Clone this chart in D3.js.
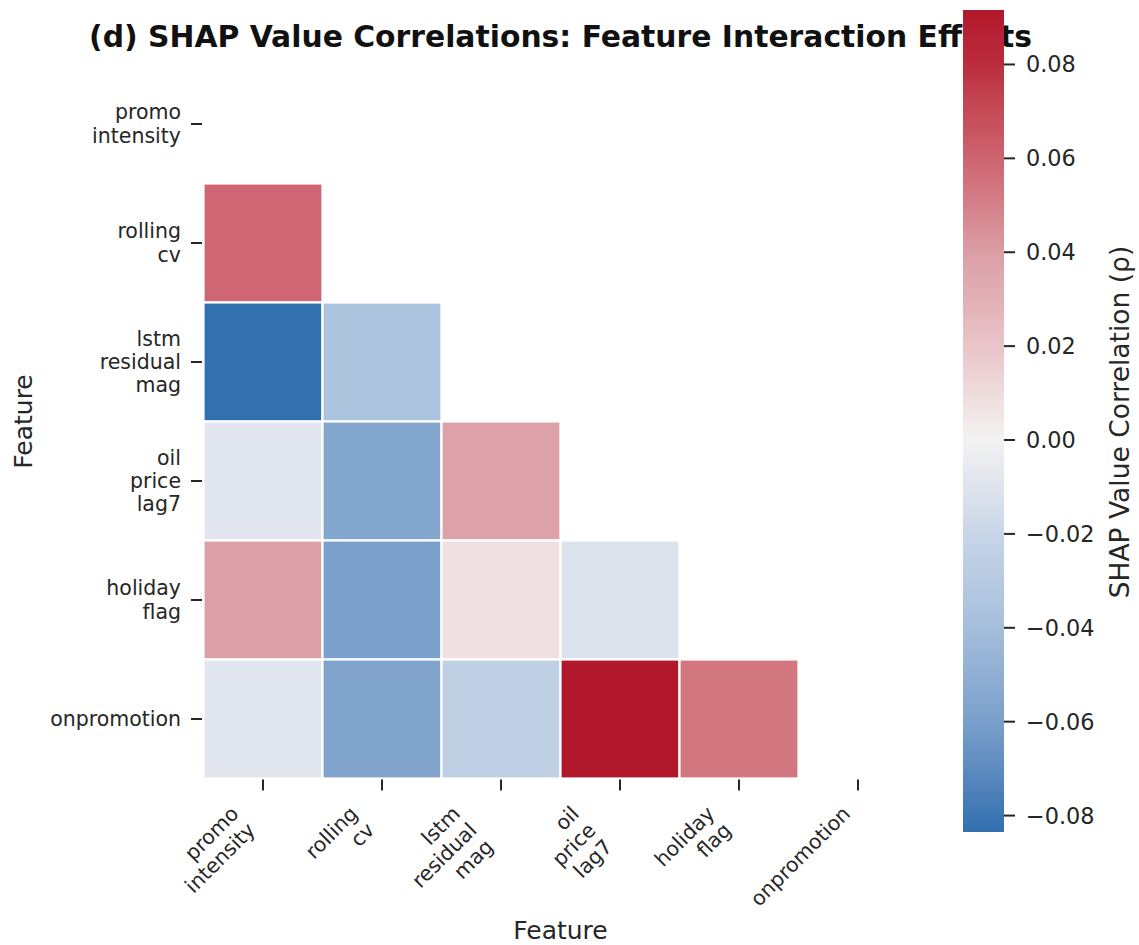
<!DOCTYPE html>
<html>
<head>
<meta charset="utf-8">
<script src="https://cdn.jsdelivr.net/npm/d3@7/dist/d3.min.js"></script>
<style>
  html, body { margin: 0; padding: 0; background: #fff; }
  svg { display: block; font-family: "DejaVu Sans", sans-serif; }
</style>
</head>
<body>
<svg id="chart" width="1139" height="945"></svg>
<script>
// ---------------- DATA ----------------
const features = ["promo_intensity", "rolling_cv", "lstm_residual_mag", "oil_price_lag7", "holiday_flag", "onpromotion"];
// Lower-triangle correlations: row i, columns 0..i-1
const rowRolling = [0.059];
const rowLstm = [-0.0835, -0.036];
const rowOil = [-0.009, -0.056, 0.038];
const rowHoliday = [0.039, -0.060, 0.008, -0.011];
const rowOnpromo = [-0.009, -0.057, -0.025, 0.0916, 0.054];
const lowerRows = [[], rowRolling, rowLstm, rowOil, rowHoliday, rowOnpromo];
const colorbarTicks = [-0.08, -0.06, -0.04, -0.02, 0.00, 0.02, 0.04, 0.06, 0.08];
const titleText = "(d) SHAP Value Correlations: Feature Interaction Effects";
const xAxisLabel = "Feature";
const yAxisLabel = "Feature";
const colorbarLabel = "SHAP Value Correlation (\u03c1)";

(function () {
// ---------------- SETUP ----------------
const svg = d3.select("#chart");
const textColor = "#262626";
const pLeft = 203.5, pRight = 917.5, pTop = 64.5, pBottom = 778.5;
const tickFont = 20.5;

const x = d3.scaleBand().domain(features).range([pLeft, pRight]).padding(0);
const y = d3.scaleBand().domain(features).range([pTop, pBottom]).padding(0);

const cells = [];
lowerRows.forEach((row, i) => row.forEach((v, j) => cells.push({ r: features[i], c: features[j], v })));
const allVals = cells.map(d => d.v);
const vmin = d3.min(allVals), vmax = d3.max(allVals);

// diverging colormap (blue - white - red)
const color = d3.scaleLinear()
  .domain([-0.0835, -0.08, -0.06, -0.04, -0.02, 0, 0.02, 0.04, 0.06, 0.08, 0.0916])
  .range(["#3370b0", "#3c76b4", "#7aa0cb", "#a5bedb", "#c8d6e8", "#f4f2f2", "#e9c4c9", "#db9da5", "#cd6470", "#bb2c3d", "#b2182b"])
  .interpolate(d3.interpolateLab)
  .clamp(true);

// ---------------- TITLE ----------------
svg.append("text")
  .attr("x", (pLeft + pRight) / 2).attr("y", 47)
  .attr("text-anchor", "middle")
  .attr("font-size", 29.8).attr("font-weight", "bold").attr("fill", "#111")
  .text(titleText);

// ---------------- CELLS ----------------
svg.append("g").selectAll("rect").data(cells).join("rect")
  .attr("x", d => x(d.c)).attr("y", d => y(d.r))
  .attr("width", x.bandwidth()).attr("height", y.bandwidth())
  .attr("fill", d => color(d.v))
  .attr("stroke", "#fff").attr("stroke-width", 2.2);

// ---------------- Y AXIS ----------------
const lh = 23.4;
const yAx = svg.append("g");
features.forEach(f => {
  const cy = y(f) + y.bandwidth() / 2;
  yAx.append("line").attr("x1", pLeft - 12.5).attr("x2", pLeft - 1.5).attr("y1", cy).attr("y2", cy)
    .attr("stroke", textColor).attr("stroke-width", 2);
  const lines = f.split("_");
  const t = yAx.append("text").attr("text-anchor", "end").attr("font-size", tickFont).attr("fill", textColor);
  lines.forEach((l, i) => {
    t.append("tspan").attr("x", 181).attr("y", cy + (i - (lines.length - 1) / 2) * lh)
      .attr("dominant-baseline", "central").text(l);
  });
});

// ---------------- X AXIS ----------------
const xAx = svg.append("g");
const svgBB = svg.node().getBoundingClientRect();
features.forEach(f => {
  const cx = x(f) + x.bandwidth() / 2;
  xAx.append("line").attr("x1", cx).attr("x2", cx).attr("y1", pBottom + 1).attr("y2", pBottom + 12)
    .attr("stroke", textColor).attr("stroke-width", 2);
  const g = xAx.append("g");
  const inner = g.append("g").attr("transform", "rotate(-45)");
  const t = inner.append("text").attr("text-anchor", "end").attr("font-size", tickFont).attr("fill", textColor);
  const lines = f.split("_");
  lines.forEach((l, i) => t.append("tspan").attr("x", 0).attr("y", i * lh).text(l));
  const bb = inner.node().getBoundingClientRect();
  const dx = (cx - 3) - (bb.right - svgBB.left);
  const dy = (pBottom + 23) - (bb.top - svgBB.top);
  g.attr("transform", `translate(${dx},${dy})`);
});

// axis labels
svg.append("text").attr("x", (pLeft + pRight) / 2).attr("y", 939)
  .attr("text-anchor", "middle").attr("font-size", 25).attr("fill", textColor).text(xAxisLabel);
svg.append("text").attr("transform", `translate(32,${(pTop + pBottom) / 2}) rotate(-90)`)
  .attr("text-anchor", "middle").attr("font-size", 25).attr("fill", textColor).text(yAxisLabel);

// ---------------- COLORBAR ----------------
const cbX = 963, cbW = 41, cbTop = 10, cbBot = 832;
const cbScale = d3.scaleLinear().domain([vmin, vmax]).range([cbBot, cbTop]);
const defs = svg.append("defs");
const grad = defs.append("linearGradient").attr("id", "cbgrad")
  .attr("x1", 0).attr("y1", 1).attr("x2", 0).attr("y2", 0);
d3.range(0, 1.0001, 0.02).forEach(t => {
  grad.append("stop").attr("offset", t).attr("stop-color", color(vmin + t * (vmax - vmin)));
});
svg.append("rect").attr("x", cbX).attr("y", cbTop).attr("width", cbW).attr("height", cbBot - cbTop)
  .attr("fill", "url(#cbgrad)");

const fmt = v => (v < 0 ? "\u2212" : "") + Math.abs(v).toFixed(2);
const cbAx = svg.append("g");
colorbarTicks.forEach(v => {
  const ty = cbScale(v);
  cbAx.append("line").attr("x1", cbX + cbW).attr("x2", cbX + cbW + 11).attr("y1", ty).attr("y2", ty)
    .attr("stroke", textColor).attr("stroke-width", 2);
  cbAx.append("text").attr("x", 1026).attr("y", ty).attr("dominant-baseline", "central")
    .attr("font-size", 22.4).attr("fill", textColor).text(fmt(v));
});
svg.append("text").attr("transform", `translate(1129,${(cbTop + cbBot) / 2 + 1}) rotate(-90)`)
  .attr("text-anchor", "middle").attr("font-size", 26.5).attr("fill", textColor).text(colorbarLabel);
})();
</script>
</body>
</html>
